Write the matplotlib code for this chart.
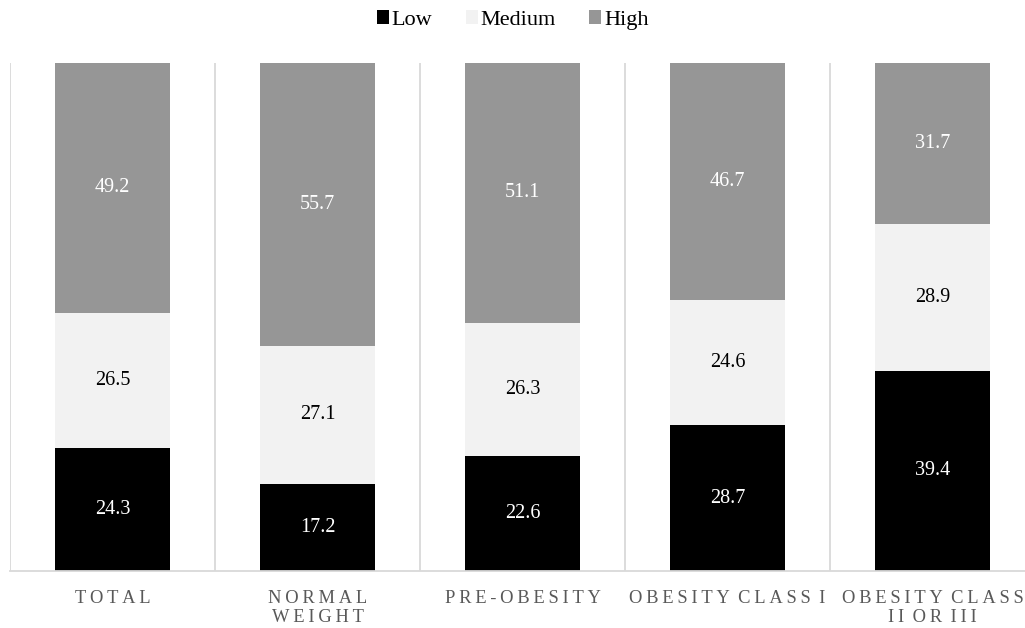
import matplotlib.pyplot as plt
from matplotlib.patches import Patch

# Data
categories = ['TOTAL', 'NORMAL\nWEIGHT', 'PRE-OBESITY', 'OBESITY CLASS I', 'OBESITY CLASS\nII OR III']
low = [24.3, 17.2, 22.6, 28.7, 39.4]
medium = [26.5, 27.1, 26.3, 24.6, 28.9]
high = [49.2, 55.7, 51.1, 46.7, 31.7]

series = [('Low', low, '#000000', 'white'),
          ('Medium', medium, '#f2f2f2', 'black'),
          ('High', high, '#969696', 'white')]

plt.rcParams['font.family'] = ['Liberation Serif', 'DejaVu Serif']


def spaced(label):
    # letter-spaced caps like the original
    lines = []
    for line in label.split('\n'):
        words = ['\u2009'.join(w) for w in line.split(' ')]
        lines.append('\u2009 '.join(words))
    return '\n'.join(lines)


fig = plt.figure(figsize=(10.25, 6.28), dpi=100)
ax = fig.add_axes([10 / 1025, 57 / 628, 1025 / 1025, 508 / 628])

x = list(range(len(categories)))
bottom = [0] * len(categories)
for name, vals, color, tcolor in series:
    bars = ax.bar(x, vals, bottom=bottom, width=0.557, color=color, label=name, zorder=2)
    for b, v, bt in zip(bars, vals, bottom):
        ax.text(b.get_x() + b.get_width() / 2, bt + v / 2, f'{v:.1f}',
                ha='center', va='center', color=tcolor, fontsize=14.5)
    bottom = [a + b for a, b in zip(bottom, vals)]

# separators between categories
for i in range(len(categories)):
    ax.axvline(i - 0.5, color='#d9d9d9', lw=1.3, zorder=1)

ax.set_xlim(-0.5, len(categories) - 0.5)
ax.set_ylim(0, 100)
ax.set_yticks([])
for s in ['top', 'right', 'left']:
    ax.spines[s].set_visible(False)
ax.spines['bottom'].set_color('#d9d9d9')
ax.spines['bottom'].set_linewidth(1.3)

ax.set_xticks(x)
ax.set_xticklabels([spaced(c) for c in categories], fontsize=13.3, color='#595959',
                   linespacing=1.1)
ax.tick_params(axis='x', length=0, pad=14)

handles = [Patch(facecolor=c, edgecolor='none', label=n) for n, _, c, _ in series]
fig.legend(handles=handles, loc='center', bbox_to_anchor=(0.5, 0.968), ncol=3,
           frameon=False, fontsize=16, handlelength=0.55, handleheight=0.55,
           handletextpad=0.12, columnspacing=1.5)

fig.savefig('out.png', dpi=100)
